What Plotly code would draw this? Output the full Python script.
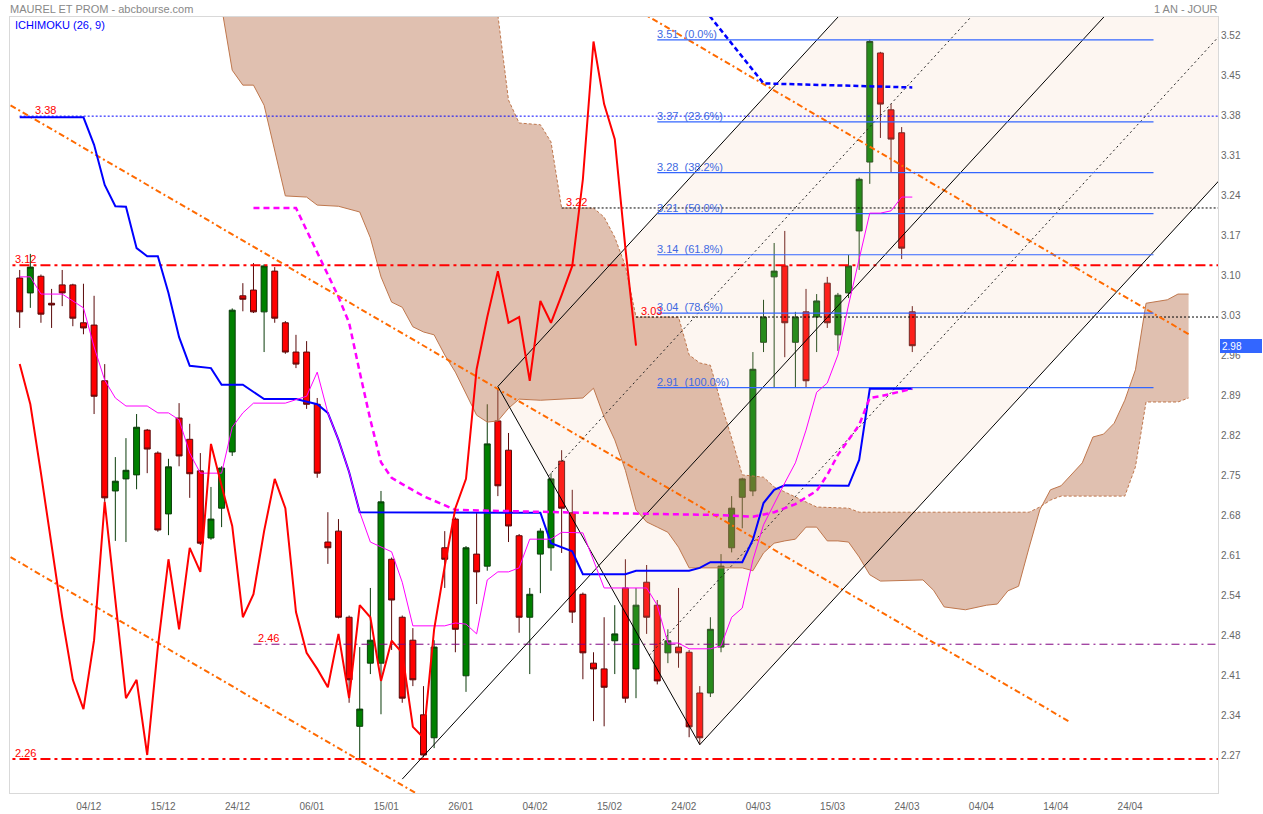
import plotly.graph_objects as go

# ---------------- data ----------------
TICK_INDEX = [7, 14, 21, 28, 35, 42, 49, 56, 63, 70, 77, 84, 91, 98, 105]
TICK_TEXT = ["04/12", "15/12", "24/12", "06/01", "15/01", "26/01", "04/02", "15/02",
             "24/02", "04/03", "15/03", "24/03", "04/04", "14/04", "24/04"]

Y_TICK_TEXT = ["3.52", "3.45", "3.38", "3.31", "3.24", "3.17", "3.10", "3.03", "2.96", "2.89",
               "2.82", "2.75", "2.68", "2.61", "2.54", "2.48", "2.41", "2.34", "2.27"]
Y_TICK_VALS = [3.5201, 3.4504, 3.3807, 3.3110, 3.2413, 3.1716, 3.1019, 3.0322, 2.9625, 2.8928,
               2.8232, 2.7535, 2.6838, 2.6141, 2.5444, 2.4747, 2.4051, 2.3354, 2.2657]

OPEN = [3.098, 3.072, 3.101, 3.054, 3.086, 3.086, 3.020, 3.016, 2.919, 2.727,
        2.748, 2.755, 2.833, 2.793, 2.687, 2.854, 2.817, 2.762, 2.645, 2.697,
        2.795, 3.067, 3.077, 3.039, 3.110, 3.020, 2.969, 2.969, 2.878, 2.638,
        2.657, 2.507, 2.317, 2.427, 2.427, 2.608, 2.507, 2.467, 2.337, 2.297,
        2.628, 2.678, 2.405, 2.617, 2.596, 2.849, 2.798, 2.649, 2.507, 2.617,
        2.628, 2.779, 2.689, 2.547, 2.427, 2.417, 2.466, 2.558, 2.417, 2.568,
        2.528, 2.445, 2.455, 2.446, 2.375, 2.375, 2.455, 2.628, 2.716, 2.727,
        2.986, 3.100, 3.119, 2.986, 3.039, 3.030, 3.089, 2.999, 3.072, 3.180,
        3.300, 3.490, 3.391, 3.351, 3.039]
HIGH = [3.112, 3.140, 3.104, 3.079, 3.112, 3.088, 3.088, 3.067, 2.948, 2.786,
        2.819, 2.861, 2.835, 2.796, 2.783, 2.880, 2.844, 2.793, 2.734, 2.770,
        3.045, 3.089, 3.124, 3.122, 3.117, 3.023, 2.999, 2.988, 2.889, 2.690,
        2.678, 2.510, 2.455, 2.558, 2.727, 2.611, 2.510, 2.488, 2.387, 2.467,
        2.657, 2.681, 2.631, 2.689, 2.878, 2.906, 2.828, 2.652, 2.558, 2.662,
        2.758, 2.798, 2.729, 2.550, 2.446, 2.507, 2.528, 2.608, 2.558, 2.598,
        2.537, 2.486, 2.558, 2.450, 2.387, 2.507, 2.617, 2.718, 2.750, 2.969,
        3.060, 3.159, 3.180, 3.039, 3.079, 3.070, 3.100, 3.072, 3.138, 3.273,
        3.513, 3.492, 3.401, 3.361, 3.049]
LOW = [3.011, 3.046, 3.020, 3.011, 3.049, 3.014, 3.000, 2.861, 2.708, 2.640,
       2.638, 2.730, 2.758, 2.656, 2.650, 2.770, 2.715, 2.633, 2.642, 2.664,
       2.788, 3.040, 3.037, 2.969, 3.020, 2.966, 2.941, 2.870, 2.750, 2.600,
       2.505, 2.358, 2.258, 2.408, 2.338, 2.450, 2.358, 2.387, 2.263, 2.279,
       2.558, 2.446, 2.377, 2.530, 2.588, 2.718, 2.638, 2.480, 2.408, 2.549,
       2.588, 2.619, 2.497, 2.399, 2.326, 2.317, 2.408, 2.358, 2.366, 2.478,
       2.390, 2.427, 2.419, 2.298, 2.285, 2.368, 2.446, 2.620, 2.662, 2.718,
       2.969, 2.907, 2.960, 2.907, 2.907, 2.969, 3.011, 2.971, 3.063, 3.112,
       3.262, 3.342, 3.281, 3.131, 2.969]
CLOSE = [3.039, 3.117, 3.035, 3.051, 3.072, 3.028, 3.011, 2.892, 2.715, 2.744,
         2.763, 2.838, 2.800, 2.659, 2.769, 2.788, 2.757, 2.636, 2.678, 2.767,
         3.042, 3.061, 3.039, 3.119, 3.028, 2.969, 2.948, 2.878, 2.758, 2.628,
         2.507, 2.398, 2.347, 2.467, 2.708, 2.537, 2.366, 2.398, 2.267, 2.455,
         2.608, 2.486, 2.628, 2.586, 2.809, 2.736, 2.666, 2.507, 2.547, 2.657,
         2.748, 2.697, 2.516, 2.445, 2.417, 2.385, 2.478, 2.366, 2.528, 2.507,
         2.396, 2.466, 2.445, 2.316, 2.297, 2.486, 2.596, 2.697, 2.748, 2.939,
         3.030, 3.110, 3.020, 3.030, 2.919, 3.058, 3.020, 3.068, 3.119, 3.270,
         3.510, 3.401, 3.340, 3.150, 2.980]
LAST_PRICE = 2.98

# Ichimoku lines (vertices: bar index, value)
TENKAN_X = [0, 1, 2, 4, 6, 7, 8, 9, 10, 12, 13, 14, 15, 16, 17, 19, 20, 21, 22, 25, 27, 28, 29, 30,
            31, 32, 33, 34, 35, 36, 37, 40, 41, 42, 43, 44, 45, 46, 47, 48, 50, 51, 53, 55, 59, 60,
            61, 62, 63, 65, 66, 67, 68, 69, 70, 72, 73, 74, 75, 76, 77, 78, 79, 80, 81, 82, 83, 84]
TENKAN_Y = [3.100, 3.100, 3.070, 3.070, 3.046, 2.978, 2.920, 2.889, 2.875, 2.875, 2.863, 2.863,
            2.851, 2.793, 2.758, 2.758, 2.838, 2.863, 2.880, 2.880, 2.892, 2.934, 2.863, 2.816,
            2.760, 2.690, 2.638, 2.629, 2.621, 2.568, 2.492, 2.492, 2.497, 2.495, 2.478, 2.572,
            2.586, 2.586, 2.593, 2.643, 2.643, 2.655, 2.654, 2.558, 2.558, 2.528, 2.462, 2.462,
            2.452, 2.452, 2.457, 2.507, 2.523, 2.607, 2.668, 2.741, 2.776, 2.833, 2.899, 2.915,
            2.964, 3.051, 3.131, 3.211, 3.211, 3.215, 3.239, 3.239]

MID52_X = [0, 6, 7, 8, 9, 10, 11, 12, 13, 14, 15, 16, 18, 19, 21, 23, 26, 28, 29, 30, 31, 32,
           49, 50, 52, 53, 57, 58, 63, 64, 65, 68, 69, 70, 71, 72, 78, 79, 80, 84]
MID52_Y = [3.378, 3.378, 3.330, 3.260, 3.223, 3.222, 3.150, 3.136, 3.136, 3.072, 2.995, 2.945,
           2.941, 2.912, 2.912, 2.887, 2.887, 2.878, 2.863, 2.816, 2.760, 2.690, 2.689, 2.636,
           2.622, 2.582, 2.582, 2.588, 2.588, 2.593, 2.603, 2.603, 2.642, 2.706, 2.729, 2.737,
           2.736, 2.781, 2.905, 2.905]

KIJUN_X = [22, 26, 30, 31, 32, 33, 34, 35, 36, 38, 41, 53, 66, 69, 71, 73, 74, 75, 76, 77, 78,
           79, 80, 81, 84]
KIJUN_Y = [3.220, 3.220, 3.065, 3.020, 2.934, 2.851, 2.777, 2.750, 2.739, 2.718, 2.694, 2.689,
           2.685, 2.682, 2.690, 2.704, 2.716, 2.727, 2.755, 2.790, 2.816, 2.842, 2.889, 2.892,
           2.905]

UPPER_X = [64, 70, 84]
UPPER_Y = [3.576, 3.437, 3.430]

SPAN_A_X = [19, 20, 21, 22, 23, 25, 27, 28, 30, 32, 33, 34, 35, 36, 37, 38, 39, 40, 41, 42, 43,
            44, 45, 46, 47, 49, 53, 54, 55, 56, 57, 58, 59, 60, 61, 62, 63, 68, 69, 70, 71, 72,
            73, 74, 75, 76, 77, 78, 79, 80, 81, 85, 86, 87, 89, 91, 92, 93, 94, 95, 96, 97, 98,
            100, 101, 102, 103, 104, 105, 106, 108, 109, 110]
SPAN_A_Y = [3.570, 3.460, 3.434, 3.434, 3.399, 3.241, 3.239, 3.225, 3.223, 3.213, 3.168, 3.100,
            3.056, 3.047, 3.013, 3.004, 2.999, 2.964, 2.934, 2.896, 2.859, 2.847, 2.849, 2.871,
            2.887, 2.885, 2.889, 2.906, 2.856, 2.816, 2.763, 2.694, 2.673, 2.664, 2.655, 2.629,
            2.593, 2.593, 2.588, 2.619, 2.636, 2.640, 2.643, 2.664, 2.664, 2.640, 2.640, 2.638,
            2.612, 2.581, 2.570, 2.572, 2.554, 2.525, 2.520, 2.528, 2.530, 2.553, 2.561, 2.629,
            2.694, 2.729, 2.736, 2.776, 2.821, 2.826, 2.845, 2.885, 2.938, 3.054, 3.060, 3.070,
            3.070]
SPAN_B_X = [19, 44, 45, 46, 47, 49, 50, 51, 54, 55, 56, 57, 58, 62, 63, 64, 65, 66, 67, 68, 70,
            71, 75, 78, 79, 95, 96, 97, 98, 104, 105, 106, 109, 110]
SPAN_B_Y = [3.650, 3.620, 3.556, 3.408, 3.368, 3.365, 3.335, 3.220, 3.220, 3.204, 3.169, 3.119,
            3.030, 3.030, 2.964, 2.950, 2.946, 2.880, 2.819, 2.755, 2.751, 2.734, 2.699, 2.697,
            2.690, 2.690, 2.699, 2.711, 2.718, 2.718, 2.769, 2.882, 2.882, 2.889]
CHIKOU_SHIFT = 26

# Fibonacci retracement
FIB_HIGH, FIB_LOW = 3.513, 2.907
FIB_RATIOS = [0.0, 0.236, 0.382, 0.5, 0.618, 0.786, 1.0]
FIB_START, FIB_END = 60, 106.7

# horizontal levels: value, start index, colour, dash, width, label index
LEVEL_VALUES = [3.38, 3.12, 3.22, 3.03, 2.46, 2.26]
LEVEL_START = [0, -2, 51, 58, 22, -2]
LEVEL_COLOR = ["#0000ff", "#ff0000", "#000000", "#000000", "#800080", "#ff0000"]
LEVEL_DASH = ["2px,2px", "10px,4px,3px,4px", "2px,2px", "2px,2px", "8px,4px,2px,4px", "10px,4px,3px,4px"]
LEVEL_WIDTH = [1, 2, 1, 1, 1, 2]
LEVEL_LABEL_X = [1.44, -0.44, 51.4, 58.5, 22.4, -0.44]

# orange dash-dot trend channel (endpoints)
ORANGE_LINES = [((-2.0, 3.4112), (98.84, 2.3245)),
                ((55.0, 3.5990), (110.0, 3.0003)),
                ((-2.0, 2.6239), (40.0, 2.1713))]

# Andrews pitchfork anchors
PF_P0 = (36, 2.225)
PF_P1 = (45, 2.909)
PF_P2 = (64, 2.285)
PF_FAR = 116

X_RANGE = [-0.913, 112.77]
Y_RANGE = [2.2008, 3.5527]

FONT = "Liberation Sans, Arial, sans-serif"

# ---------------- figure ----------------
fig = go.Figure()

# candles (drawn under the semi-transparent fills)
idx = list(range(len(CLOSE)))
fig.add_trace(go.Candlestick(
    x=idx, open=OPEN, high=HIGH, low=LOW, close=CLOSE,
    increasing=dict(fillcolor="#008000", line=dict(color="#0b3d0b", width=1)),
    decreasing=dict(fillcolor="#ff0000", line=dict(color="#5a0a0a", width=1)),
    whiskerwidth=0, showlegend=False, hoverinfo="skip"))

# pitchfork geometry
mx = (PF_P1[0] + PF_P2[0]) / 2
my = (PF_P1[1] + PF_P2[1]) / 2
k = (my - PF_P0[1]) / (mx - PF_P0[0])


def along(p, x):
    return p[1] + k * (x - p[0])


def on_p1p2(t):
    return (PF_P1[0] + t * (PF_P2[0] - PF_P1[0]), PF_P1[1] + t * (PF_P2[1] - PF_P1[1]))


# cream pitchfork area
fig.add_trace(go.Scatter(
    x=[PF_P1[0], PF_FAR, PF_FAR, PF_P2[0], PF_P1[0]],
    y=[PF_P1[1], along(PF_P1, PF_FAR), along(PF_P2, PF_FAR), PF_P2[1], PF_P1[1]],
    mode="lines", line=dict(width=0), fill="toself",
    fillcolor="rgba(240,200,170,0.16)", showlegend=False, hoverinfo="skip"))

# cloud
CLOUD_LINE = "#bf774d"
fig.add_trace(go.Scatter(x=SPAN_B_X, y=SPAN_B_Y, mode="lines",
                         line=dict(color=CLOUD_LINE, width=1, dash="3px,2px"),
                         showlegend=False, hoverinfo="skip"))
fig.add_trace(go.Scatter(x=SPAN_A_X, y=SPAN_A_Y, mode="lines",
                         line=dict(color=CLOUD_LINE, width=1),
                         fill="tonexty", fillcolor="rgba(181,105,67,0.42)",
                         showlegend=False, hoverinfo="skip"))

# horizontal levels
for v, s, c, d, w in zip(LEVEL_VALUES, LEVEL_START, LEVEL_COLOR, LEVEL_DASH, LEVEL_WIDTH):
    fig.add_trace(go.Scatter(x=[s, X_RANGE[1] + 1], y=[v, v], mode="lines",
                             line=dict(color=c, width=w, dash=d),
                             showlegend=False, hoverinfo="skip"))

# orange channel
for (a, b) in ORANGE_LINES:
    fig.add_trace(go.Scatter(x=[a[0], b[0]], y=[a[1], b[1]], mode="lines",
                             line=dict(color="#ff6a00", width=2, dash="6px,3px,2px,3px"),
                             showlegend=False, hoverinfo="skip"))

# pitchfork lines
pf_solid = [
    ([PF_P1[0], PF_P2[0]], [PF_P1[1], PF_P2[1]]),
    ([PF_P0[0], PF_FAR], [PF_P0[1], along(PF_P0, PF_FAR)]),
    ([PF_P1[0], PF_FAR], [PF_P1[1], along(PF_P1, PF_FAR)]),
    ([PF_P2[0], PF_FAR], [PF_P2[1], along(PF_P2, PF_FAR)]),
]
for xs, ys in pf_solid:
    fig.add_trace(go.Scatter(x=xs, y=ys, mode="lines", line=dict(color="#000000", width=1),
                             showlegend=False, hoverinfo="skip"))
for t in (0.25, 0.75):
    p = on_p1p2(t)
    fig.add_trace(go.Scatter(x=[p[0], PF_FAR], y=[p[1], along(p, PF_FAR)], mode="lines",
                             line=dict(color="#222222", width=1, dash="2px,3px"),
                             showlegend=False, hoverinfo="skip"))

# fibonacci
FIB_COLOR = "#3366ff"
fib_levels = [FIB_HIGH - r * (FIB_HIGH - FIB_LOW) for r in FIB_RATIOS]
for lv in fib_levels:
    fig.add_trace(go.Scatter(x=[FIB_START, FIB_END], y=[lv, lv], mode="lines",
                             line=dict(color=FIB_COLOR, width=1.2),
                             showlegend=False, hoverinfo="skip"))

# ichimoku lines
fig.add_trace(go.Scatter(x=MID52_X, y=MID52_Y, mode="lines", line=dict(color="#0000ff", width=2),
                         showlegend=False, hoverinfo="skip"))
fig.add_trace(go.Scatter(x=TENKAN_X, y=TENKAN_Y, mode="lines", line=dict(color="#ff00ff", width=1),
                         showlegend=False, hoverinfo="skip"))
fig.add_trace(go.Scatter(x=KIJUN_X, y=KIJUN_Y, mode="lines",
                         line=dict(color="#ff00ff", width=2.5, dash="6px,4px"),
                         showlegend=False, hoverinfo="skip"))
fig.add_trace(go.Scatter(x=UPPER_X, y=UPPER_Y, mode="lines",
                         line=dict(color="#0000ff", width=2.5, dash="5px,3px"),
                         showlegend=False, hoverinfo="skip"))
chikou_x = list(range(len(CLOSE) - CHIKOU_SHIFT))
chikou_y = CLOSE[CHIKOU_SHIFT:]
fig.add_trace(go.Scatter(x=chikou_x, y=chikou_y, mode="lines", line=dict(color="#ff0000", width=2),
                         showlegend=False, hoverinfo="skip"))

# ---------------- annotations ----------------
ann = []
for v, lx in zip(LEVEL_VALUES, LEVEL_LABEL_X):
    ann.append(dict(x=lx, y=v, xref="x", yref="y", text=f"{v:.2f}", showarrow=False,
                    xanchor="left", yanchor="bottom", borderpad=0, borderwidth=0,
                    font=dict(family=FONT, size=11, color="#ff0000")))
for r, lv in zip(FIB_RATIOS, fib_levels):
    ann.append(dict(x=FIB_START, y=lv, xref="x", yref="y",
                    text=f"{lv:.2f}\u00a0\u00a0({r * 100:.1f}%)", showarrow=False,
                    xanchor="left", yanchor="bottom", borderpad=0, borderwidth=0,
                    font=dict(family=FONT, size=11, color="#4169e1")))

ann.append(dict(x=0, y=(793 - 9) / 776, xref="paper", yref="paper", text="MAUREL ET PROM - abcbourse.com",
                showarrow=False, xanchor="left", yanchor="middle", borderpad=0, borderwidth=0,
                font=dict(family=FONT, size=11, color="#888888")))
ann.append(dict(x=1, y=(793 - 9) / 776, xref="paper", yref="paper", text="1 AN - JOUR",
                showarrow=False, xanchor="right", yanchor="middle", borderpad=0, borderwidth=0,
                font=dict(family=FONT, size=11, color="#888888")))
ann.append(dict(x=5 / 1208, y=(793 - 25) / 776, xref="paper", yref="paper", text="ICHIMOKU (26, 9)",
                showarrow=False, xanchor="left", yanchor="middle", borderpad=0, borderwidth=0,
                font=dict(family=FONT, size=11, color="#0000ff")))
ann.append(dict(x=1, xshift=2, y=LAST_PRICE, xref="paper", yref="y", text=f"{LAST_PRICE:.2f}",
                showarrow=False, xanchor="left", yanchor="middle", align="left",
                width=38, height=10, borderpad=2, borderwidth=0, bgcolor="#3366ff",
                font=dict(family=FONT, size=10, color="#ffffff")))

fig.update_layout(
    width=1263, height=814,
    margin=dict(l=10, r=45, t=17, b=21),
    paper_bgcolor="#ffffff", plot_bgcolor="#ffffff",
    showlegend=False,
    boxgap=0.2, boxgroupgap=0.3,
    annotations=ann,
    font=dict(family=FONT),
    xaxis=dict(range=X_RANGE, tickvals=[t - 0.5 for t in TICK_INDEX], ticktext=TICK_TEXT,
               showgrid=False, zeroline=False, showline=True, linecolor="#d9d9d9", mirror=True,
               ticks="", ticklabelstandoff=4, automargin=False,
               tickfont=dict(family=FONT, size=10, color="#666666"),
               rangeslider=dict(visible=False), fixedrange=True),
    yaxis=dict(range=Y_RANGE, side="right", tickvals=Y_TICK_VALS, ticktext=Y_TICK_TEXT,
               showgrid=False, zeroline=False, showline=True, linecolor="#d9d9d9", mirror=True,
               ticks="", automargin=False,
               tickfont=dict(family=FONT, size=10, color="#666666"), fixedrange=True),
)

fig.write_html("out.html", config={"displayModeBar": False},
               post_script="document.body.style.margin='0px';document.body.style.overflow='hidden';")
